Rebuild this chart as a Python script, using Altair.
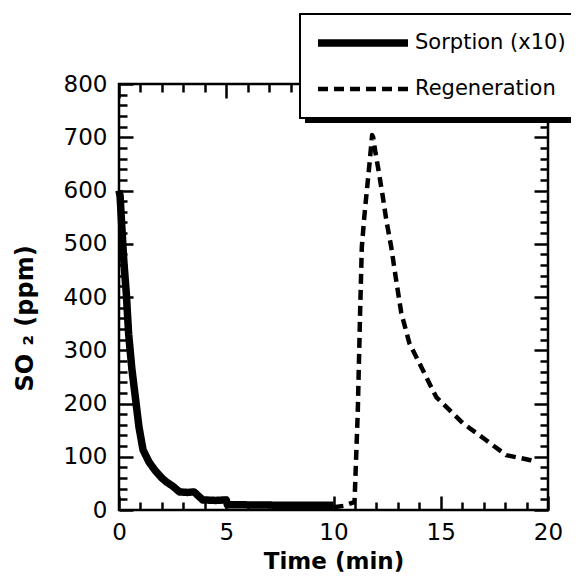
import altair as alt
import pandas as pd

series_names = ["Sorption (x10)", "Regeneration"]

sorp_t = [0.0, 0.05, 0.12, 0.22, 0.34, 0.45, 0.6, 0.74, 0.93, 1.12, 1.4, 1.67, 2.0, 2.2, 2.5, 2.82, 3.2, 3.5, 3.9, 4.5, 5.0, 5.05, 7.5, 10.0]
sorp_v = [600, 590, 540, 470, 407, 330, 265, 219, 156, 113, 90, 75, 60, 53, 45, 34, 33, 34, 19, 18, 19, 10, 9, 9]

regen_t = [10.0, 10.5, 10.98, 11.13, 11.24, 11.32, 11.45, 11.68, 11.8, 11.85, 11.96, 12.07, 12.3, 12.46, 12.69, 12.92, 13.16, 13.54, 14.0, 14.79, 16.03, 17.12, 18.05, 19.14, 19.4]
regen_v = [5, 8, 15, 182, 370, 494, 557, 651, 704, 700, 670, 645, 588, 545, 494, 432, 370, 313, 276, 212, 163, 131, 103, 94, 90]

x_major = [0, 5, 10, 15, 20]
x_minor = [i for i in range(1, 20) if i % 5 != 0]
y_major = list(range(0, 801, 100))
y_minor = [v for v in range(20, 800, 20) if v % 100 != 0]

df = pd.concat([
    pd.DataFrame({"t": sorp_t, "v": sorp_v, "series": series_names[0]}),
    pd.DataFrame({"t": regen_t, "v": regen_v, "series": series_names[1]}),
], ignore_index=True)

FONT = "DejaVu Sans"
xs = alt.Scale(domain=[0, 20], nice=False, zero=False)
ys = alt.Scale(domain=[0, 800], nice=False, zero=False)

lines = alt.Chart(df).mark_line(color="black", strokeCap="butt", strokeJoin="round").encode(
    x=alt.X("t:Q", scale=xs, axis=alt.Axis(
        values=x_major, ticks=False, domain=False, grid=False, labelFlush=False,
        labelFont=FONT, labelFontSize=23, labelColor="black", labelPadding=11,
        title="Time (min)", titleFont=FONT, titleFontSize=23, titleFontWeight="bold",
        titleColor="black", titleX=214.5, titleY=58, titleBaseline="alphabetic")),
    y=alt.Y("v:Q", scale=ys, axis=alt.Axis(
        values=y_major, ticks=False, domain=False, grid=False, labelFlush=False,
        labelFont=FONT, labelFontSize=23, labelColor="black", labelPadding=12,
        title="SO ₂ (ppm)", titleFont=FONT, titleFontSize=24, titleFontWeight="bold",
        titleColor="black", titleX=-87, titleY=234, titleBaseline="alphabetic")),
    strokeDash=alt.StrokeDash("series:N", scale=alt.Scale(domain=series_names, range=[[1, 0], [10, 6]]),
                              legend=alt.Legend(orient="none", legendX=181, legendY=-70, title=None,
                                                symbolType="stroke", symbolSize=8100, symbolStrokeWidth=5,
                                                symbolStrokeColor="black", labelFont=FONT, labelFontSize=21,
                                                labelColor="black", labelOffset=3, strokeColor="black",
                                                fillColor="white", padding=14, rowPadding=16, clipHeight=30)),
    strokeWidth=alt.StrokeWidth("series:N", scale=alt.Scale(domain=series_names, range=[7.5, 4.5]), legend=None),
)

shadow = alt.Chart(pd.DataFrame({"k": [0]})).mark_rect(color="black").encode(
    x=alt.value(186), x2=alt.value(452), y=alt.value(-64), y2=alt.value(39)
)


def tick_axis(orient, values, size):
    return alt.Axis(orient=orient, values=values, tickSize=size, offset=-size, labels=False,
                    domain=False, grid=False, title=None, tickColor="black", tickWidth=2.5)


def tick_layer(xaxis, yaxis):
    return alt.Chart(df).mark_point(opacity=0).encode(
        x=alt.X("t:Q", scale=xs, axis=xaxis),
        y=alt.Y("v:Q", scale=ys, axis=yaxis),
    )


t1 = tick_layer(tick_axis("bottom", x_major, 14), tick_axis("left", y_major, 14))
t2 = tick_layer(tick_axis("bottom", x_minor, 8), tick_axis("left", y_minor, 8))
t3 = tick_layer(tick_axis("top", x_major, 14), tick_axis("right", y_major, 14))
t4 = tick_layer(tick_axis("top", x_minor, 8), tick_axis("right", y_minor, 8))

chart = alt.layer(lines, t1, t2, t3, t4, shadow).resolve_axis(
    x="independent", y="independent"
).properties(
    width=429, height=426,
    autosize=alt.AutoSizeParams(type="none"),
    padding={"left": 111, "top": 76, "right": 23, "bottom": 64},
).configure_view(
    stroke="black", strokeWidth=2.5
).configure_legend(
    strokeWidth=2
)

chart.save("out.html", embed_options={"renderer": "svg", "actions": False})
